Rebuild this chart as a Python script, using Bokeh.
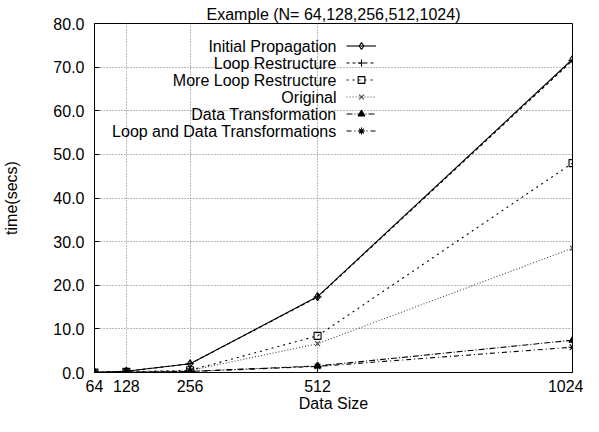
from bokeh.plotting import figure
from bokeh.models import (Range1d, FixedTicker, NumeralTickFormatter, Legend,
                          LegendItem, Label)
from bokeh.embed import file_html
from bokeh.resources import INLINE

# ---- data ----
data_size = [64, 128, 256, 512, 1024]
initial_propagation = [0.02, 0.3, 2.0, 17.4, 71.8]
loop_restructure = [0.02, 0.3, 2.0, 17.3, 71.5]
more_loop_restructure = [0.01, 0.15, 0.5, 8.4, 48.0]
original = [0.01, 0.12, 0.45, 6.6, 28.5]
data_transformation = [0.01, 0.05, 0.25, 1.5, 7.4]
loop_and_data = [0.01, 0.05, 0.22, 1.4, 5.8]

series_names = ["Initial Propagation", "Loop Restructure", "More Loop Restructure",
                "Original", "Data Transformation", "Loop and Data Transformations"]
series_values = [initial_propagation, loop_restructure, more_loop_restructure,
                 original, data_transformation, loop_and_data]
y_ticks = [0, 10, 20, 30, 40, 50, 60, 70, 80]

# ---- styles ----
FONT = "Liberation Sans"
FS = "16px"
styles = [
    dict(dash="solid", marker="diamond", fill=None, color="black", size=8),
    dict(dash="3 3", marker="cross", fill=None, color="black", size=8),
    dict(dash="2 4", marker="square", fill=None, color="black", size=7),
    dict(dash="1 2", marker="x", fill=None, color="#444444", size=7),
    dict(dash="6 2 1 2", marker="triangle", fill="black", color="black", size=7),
    dict(dash="5 3 1 3", marker="asterisk", fill=None, color="black", size=8),
]

W, H = 583, 416
FL, FR, FT, FB = 93, 11, 23, 44
FH = H - FT - FB

p = figure(width=W, height=H, output_backend="svg", toolbar_location=None,
           x_range=Range1d(64, 1024), y_range=Range1d(0, 80),
           min_border_left=FL, min_border_right=FR,
           min_border_top=FT, min_border_bottom=FB,
           title="Example (N= 64,128,256,512,1024)")

p.title.text_font = FONT
p.title.text_font_size = FS
p.title.text_font_style = "normal"
p.title.text_color = "black"
p.title.align = "center"
p.title.standoff = 2
p.title.offset = 0

p.outline_line_color = "black"
p.outline_line_width = 1
p.outline_line_alpha = 1
p.background_fill_color = "white"
p.border_fill_color = "white"

p.xaxis.ticker = FixedTicker(ticks=data_size)
p.yaxis.ticker = FixedTicker(ticks=y_ticks)
p.yaxis.formatter = NumeralTickFormatter(format="0.0")
p.xaxis.axis_label = "Data Size"
p.yaxis.axis_label = "time(secs)"

for ax in (p.xaxis[0], p.yaxis[0]):
    ax.axis_line_color = "black"
    ax.axis_line_width = 1
    ax.major_tick_in = 5
    ax.major_tick_out = 0
    ax.minor_tick_in = 0
    ax.minor_tick_out = 0
    ax.major_tick_line_color = "black"
    ax.major_label_text_font = FONT
    ax.major_label_text_font_size = FS
    ax.major_label_text_color = "black"
    ax.axis_label_text_font = FONT
    ax.axis_label_text_font_size = FS
    ax.axis_label_text_font_style = "normal"
    ax.axis_label_text_color = "black"

p.xaxis.major_label_standoff = 7
p.xaxis.axis_label_standoff = 0
p.yaxis.major_label_standoff = 10
p.yaxis.axis_label_standoff = 30

p.xgrid.ticker = FixedTicker(ticks=data_size)
p.ygrid.ticker = FixedTicker(ticks=y_ticks)
for g in (p.xgrid[0], p.ygrid[0]):
    g.grid_line_color = "#777777"
    g.grid_line_dash = "1 2"
    g.grid_line_width = 1

items = []
for name, vals, st in zip(series_names, series_values, styles):
    lr = p.line(data_size, vals, line_color=st["color"], line_width=1.1,
                line_dash=st["dash"])
    sr = p.scatter(data_size, vals, marker=st["marker"], size=st["size"],
                   line_color=st["color"], line_width=1.1,
                   fill_color=st["fill"] if st["fill"] else None)
    items.append(LegendItem(label=" ", renderers=[lr, sr]))

ROW = 17
LEG_TOP = 14   # from frame top
legend = Legend(items=items, location=(252, FH - LEG_TOP - ROW * len(items)),
                glyph_width=30, glyph_height=ROW, label_height=ROW,
                label_width=0, label_standoff=0, spacing=0, padding=0, margin=0,
                label_text_font_size="1px", border_line_color=None,
                background_fill_alpha=0)
p.add_layout(legend, "center")

for i, name in enumerate(series_names):
    p.add_layout(Label(x=242, y=FH - LEG_TOP - ROW * i - ROW / 2,
                       x_units="screen", y_units="screen", text=name,
                       text_align="right", text_baseline="middle",
                       text_font=FONT, text_font_size=FS, text_color="black"))

open("out.html", "w").write(file_html(p, INLINE))
